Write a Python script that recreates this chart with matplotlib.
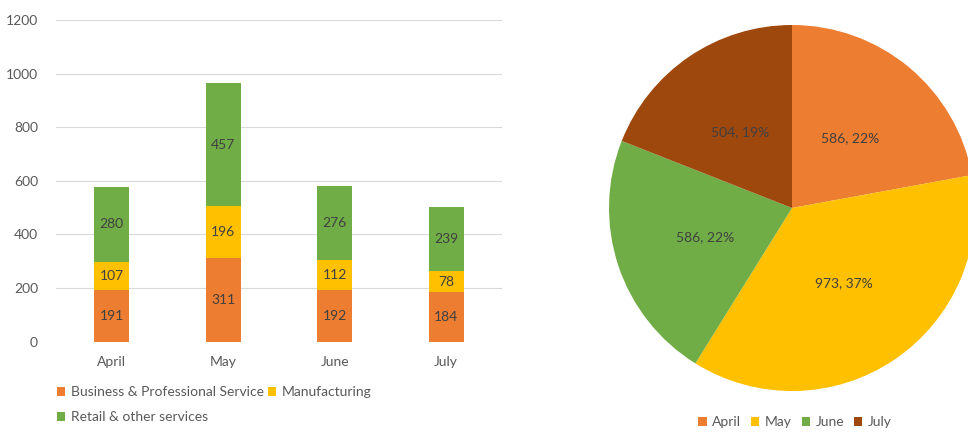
import matplotlib
matplotlib.use("Agg")
import matplotlib.pyplot as plt
import numpy as np

plt.rcParams['font.family'] = ['Lato', 'DejaVu Sans']

# stacked bars by sector
months = ['April', 'May', 'June', 'July']
business = [191, 311, 192, 184]
manufacturing = [107, 196, 112, 78]
retail = [280, 457, 276, 239]

# pie of monthly totals
pie_labels = ['April', 'May', 'June', 'July']
pie_values = [586, 973, 586, 504]

orange = '#ED7D31'
yellow = '#FFC000'
green = '#70AD47'
brown = '#9E480E'
text_grey = '#595959'
label_grey = '#404040'
fs = 10

W, H = 968, 432
fig = plt.figure(figsize=(W / 100, H / 100), dpi=100)

# --- bar chart ---
ax = fig.add_axes([56 / W, 1 - 341.7 / H, (502 - 56) / W, (341.7 - 20) / H])
x = np.arange(len(months))
bw = 0.31
b1 = ax.bar(x, business, bw, color=orange, zorder=3)
b2 = ax.bar(x, manufacturing, bw, bottom=business, color=yellow, zorder=3)
bottom3 = np.array(business) + np.array(manufacturing)
b3 = ax.bar(x, retail, bw, bottom=bottom3, color=green, zorder=3)

for bars in (b1, b2, b3):
    ax.bar_label(bars, label_type='center', color=label_grey, fontsize=fs)

ax.set_xlim(-0.5, len(months) - 0.5)
ax.set_ylim(0, 1200)
ax.set_yticks(range(0, 1201, 200))
ax.set_xticks(x)
ax.set_xticklabels(months)
ax.tick_params(axis='both', length=0, colors=text_grey, labelsize=fs)
ax.tick_params(axis='y', pad=13)
ax.tick_params(axis='x', pad=10)
ax.grid(axis='y', color='#D9D9D9', linewidth=0.8, zorder=0)
for s in ax.spines.values():
    s.set_visible(False)

ax.legend([b1, b3, b2],
          ['Business & Professional Service', 'Retail & other services', 'Manufacturing'],
          ncol=2, loc='upper left', bbox_to_anchor=(57 / W, 1 - 386 / H),
          bbox_transform=fig.transFigure, frameon=False, fontsize=fs,
          handlelength=0.6, handleheight=0.6, handletextpad=0.4,
          columnspacing=0.3, labelspacing=0.95, labelcolor=text_grey,
          borderaxespad=0, borderpad=0)

# --- pie chart ---
cx, cy, r = 792, 208, 183
pax = fig.add_axes([(cx - r) / W, 1 - (cy + r) / H, 2 * r / W, 2 * r / H])
total = sum(pie_values)
wedges, _ = pax.pie(pie_values, colors=[orange, yellow, green, brown],
                    startangle=90, counterclock=False, radius=1,
                    wedgeprops=dict(linewidth=0))
for w, v in zip(wedges, pie_values):
    ang = np.deg2rad((w.theta1 + w.theta2) / 2)
    pax.text(0.5 * np.cos(ang), 0.5 * np.sin(ang), f'{v}, {round(100 * v / total)}%',
             ha='center', va='center', color=label_grey, fontsize=fs)
pax.set_xlim(-1, 1)
pax.set_ylim(-1, 1)
pax.set_aspect('auto')
pax.axis('off')

fig.legend(wedges, pie_labels, ncol=4, loc='center',
           bbox_to_anchor=(795 / W, 1 - 422 / H), frameon=False, fontsize=fs,
           handlelength=0.6, handleheight=0.6, handletextpad=0.4,
           columnspacing=0.7, labelcolor=text_grey)

fig.savefig('out.png', dpi=100, facecolor='white')
